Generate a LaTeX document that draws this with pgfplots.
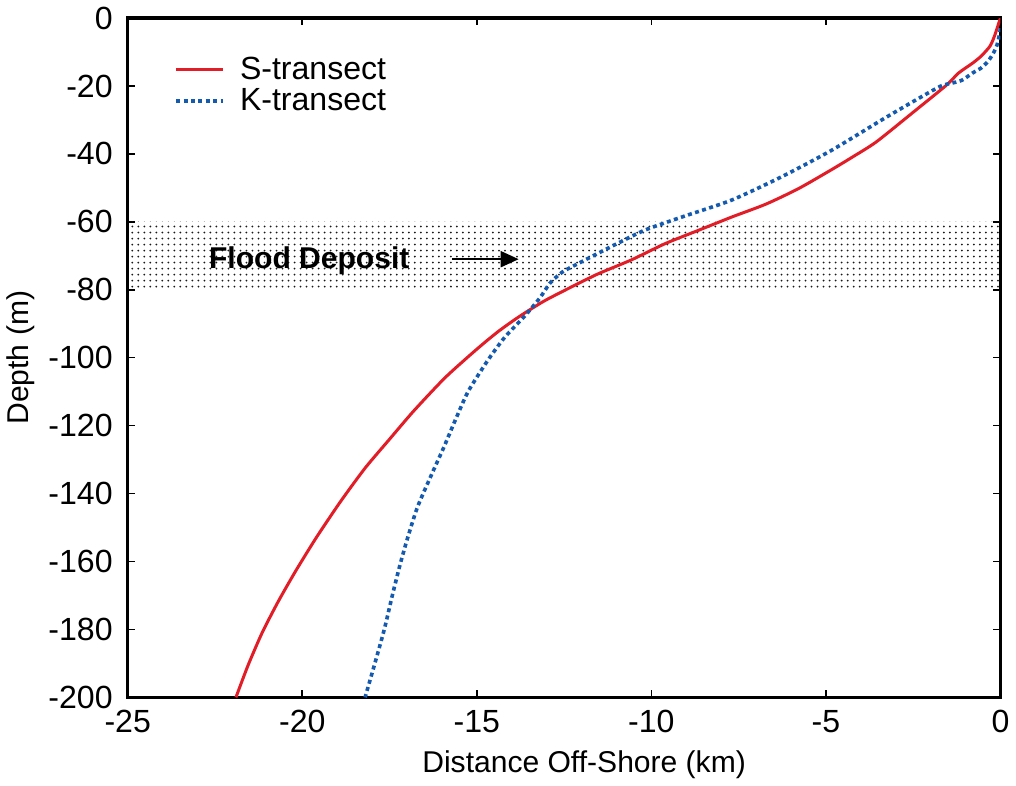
\documentclass[border=0pt]{standalone}
\usepackage{pgfplots}
\pgfplotsset{compat=1.18}
\usepackage{fontspec}
\setmainfont{Liberation Sans}
\usetikzlibrary{patterns,arrows.meta}
\definecolor{sred}{RGB}{225,30,40}
\definecolor{kblue}{RGB}{20,90,175}
\begin{document}
\begin{tikzpicture}
\begin{axis}[
  scale only axis, width=435.5pt, height=339pt,
  xmin=-25, xmax=0, ymin=-200, ymax=0,
  xtick={-25,-20,...,0}, ytick={-200,-180,...,0},
  /pgf/number format/assume math mode=true,
  ticklabel style={font=\fontsize{16}{19}\selectfont},
  xlabel={Distance Off-Shore (km)}, ylabel={Depth (m)},
  label style={font=\fontsize{15}{18}\selectfont},
  xlabel style={xshift=10pt, yshift=-2pt},
  axis line style={line width=1.6pt},
  major tick length=3.5pt,
  tick style={black, line width=0.8pt},
  yticklabel style={xshift=-4pt},
  xticklabel style={yshift=-3pt},
  legend style={at={(0.046,0.955)}, anchor=north west, draw=none, fill=none,
    font=\fontsize{16}{19}\selectfont, row sep=-1pt},
  legend cell align=left,
  legend image code/.code={\draw[#1] (0pt,0pt) -- (23.5pt,0pt); \path (29pt,0pt);},
]
\addplot[draw=none, pattern=dots, pattern color=black!90, forget plot]
  coordinates {(-25,-60) (0,-60) (0,-80) (-25,-80) (-25,-60)};
\addplot[sred, line width=1.5pt, smooth, tension=0.4] coordinates {
(0,0) (-0.17,-5.3) (-0.3,-8.3) (-0.55,-11.2) (-0.8,-13.3) (-1.2,-16.2)
(-1.55,-19.8) (-2.53,-28) (-3.56,-36.5) (-4.25,-41) (-4.83,-44.6)
(-5.78,-50.2) (-6.72,-54.8) (-7.7,-58.6) (-8.65,-62.5) (-9.6,-66.4)
(-10.57,-71.2) (-11.5,-75.2) (-12.1,-78.2) (-13.05,-83.2) (-13.8,-88)
(-14.4,-92.4) (-15.0,-97.5) (-15.9,-105.8) (-16.8,-115.6) (-17.5,-124) (-18.2,-132.5)
(-18.9,-142.3) (-19.6,-153) (-20.2,-163) (-20.7,-172) (-21.15,-181)
(-21.55,-190.5) (-21.9,-200)};
\addlegendentry{S-transect}
\addplot[kblue, line width=1.8pt, dash pattern=on 2pt off 1.7pt, smooth, tension=0.4] coordinates {
(0,-3) (-0.03,-5) (-0.1,-8) (-0.2,-10.3) (-0.35,-12.7) (-0.55,-14.7)
(-0.8,-16.2) (-1.1,-18.3) (-1.4,-19.2) (-1.7,-20) (-2.4,-24) (-3.4,-30)
(-4.83,-38.9) (-6.26,-46.7) (-7.7,-53.6) (-9.1,-58.5) (-10.2,-62.5)
(-11.15,-67.3) (-12.1,-72.3) (-12.55,-74.8) (-12.9,-78) (-13.2,-82.5) (-13.65,-88)
(-14.2,-94) (-14.7,-101) (-15.25,-110) (-15.6,-118) (-15.95,-126.5)
(-16.3,-134.5) (-16.7,-144) (-16.98,-153) (-17.2,-161) (-17.42,-170)
(-17.65,-180) (-17.92,-190) (-18.2,-200)};
\addlegendentry{K-transect}
\node[font=\bfseries\fontsize{15}{18}\selectfont] at (axis cs:-19.8,-71.5) {Flood Deposit};
\draw[line width=1pt, -{Triangle[length=9pt,width=8pt]}] (axis cs:-15.7,-71) -- (axis cs:-13.8,-71);
\end{axis}
\end{tikzpicture}
\end{document}
